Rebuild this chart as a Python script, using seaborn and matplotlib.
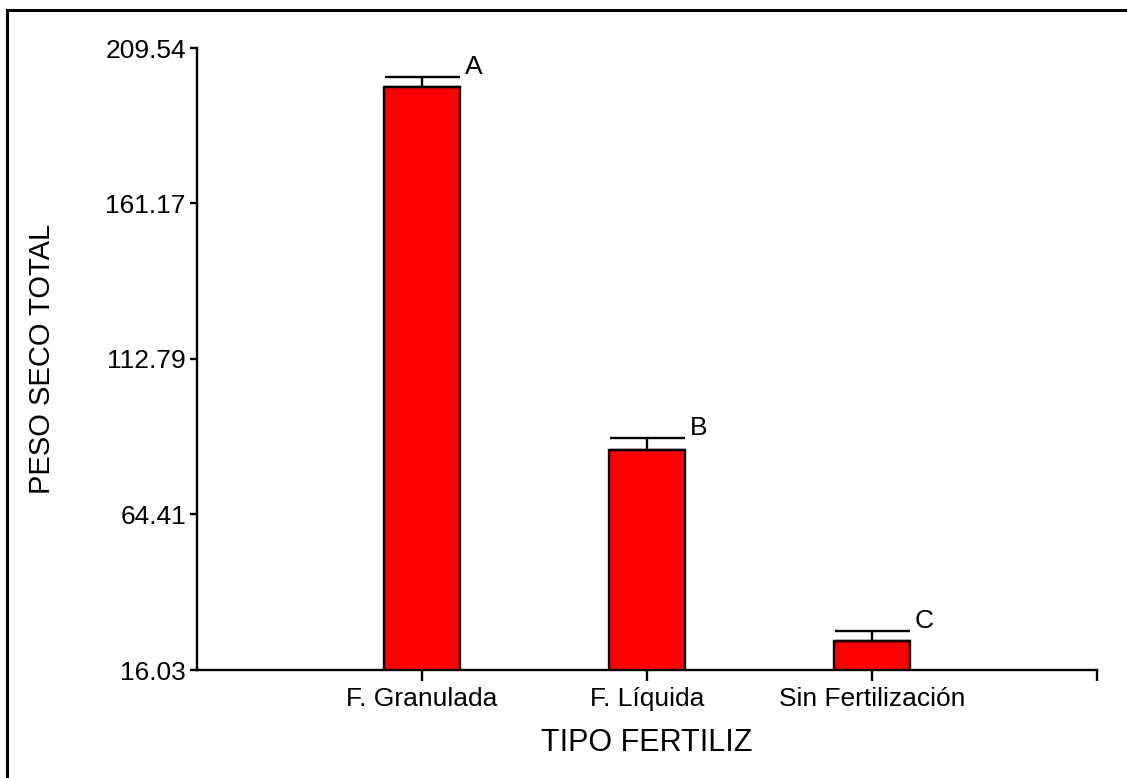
import matplotlib
matplotlib.use("Agg")
import matplotlib.pyplot as plt
import seaborn as sns
import pandas as pd
from matplotlib.patches import Rectangle

# -------------------------
# DATA
# -------------------------
categories = ["F. Granulada", "F. Líquida", "Sin Fertilización"]
means = [197.4, 84.5, 25.0]
errors = [3.1, 3.7, 3.1]
letters = ["A", "B", "C"]
y_ticks = [16.03, 64.41, 112.79, 161.17, 209.54]

df = pd.DataFrame({"tipo": categories, "peso": means})

sns.set_style("ticks", {"text.color": "black", "axes.labelcolor": "black",
                        "xtick.color": "black", "ytick.color": "black",
                        "axes.edgecolor": "black"})
plt.rcParams["font.family"] = ["Liberation Sans", "DejaVu Sans"]

fig = plt.figure(figsize=(11.27, 7.78), dpi=100)
ax = fig.add_axes([197 / 1127, 1 - 670 / 778, 900 / 1127, 622 / 778])

sns.barplot(data=df, x="tipo", y="peso", color="#ff0000", saturation=1,
            edgecolor="black", linewidth=1.7, width=0.335, errorbar=None, ax=ax)

# upward-only error bars, cap as wide as the bar
ax.errorbar(range(len(means)), means, yerr=[[0] * len(means), errors],
            fmt="none", ecolor="black", elinewidth=1.7, capsize=27, capthick=1.7)

for i, (m, e, l) in enumerate(zip(means, errors, letters)):
    ax.text(i + 0.19, m + e - 0.5, l, ha="left", va="bottom", fontsize=19,
            color="black")

ax.set_xlim(-1, 3)
ax.set_ylim(y_ticks[0], y_ticks[-1])
ax.set_yticks(y_ticks)
ax.set_yticklabels([f"{t:.2f}" for t in y_ticks], fontsize=19)
ax.set_xticks([0, 1, 2, 3])
ax.set_xticklabels(categories + [""], fontsize=19)
ax.tick_params(axis="x", length=8, width=1.7, pad=4, colors="black")
ax.tick_params(axis="y", length=5, width=1.7, pad=3, colors="black")

for s in ["top", "right"]:
    ax.spines[s].set_visible(False)
for s in ["left", "bottom"]:
    ax.spines[s].set_linewidth(1.7)
    ax.spines[s].set_color("black")

ax.set_xlabel("TIPO FERTILIZ", fontsize=22, color="black")
ax.xaxis.set_label_coords(0.5, -0.094)
ax.set_ylabel("PESO SECO TOTAL", fontsize=21, color="black")
ax.yaxis.set_label_coords(-0.157, 0.5)

# outer frame (clipped at right and bottom like the source image)
fig.patches.append(Rectangle((7 / 1127, -0.1), 1.2, 1 - 10 / 778 + 0.1,
                             transform=fig.transFigure, fill=False,
                             edgecolor="black", linewidth=2.2, clip_on=False))

fig.savefig("out.png", dpi=100)
